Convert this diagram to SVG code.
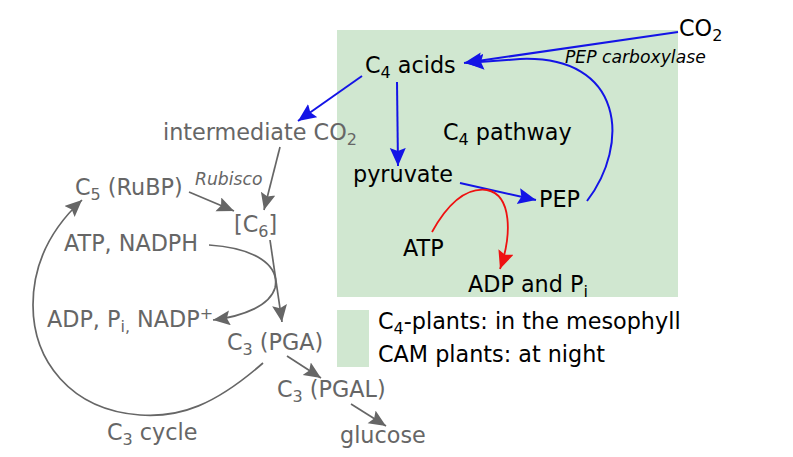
<svg xmlns="http://www.w3.org/2000/svg" width="793" height="457" viewBox="0 0 793 457">
<style>
text{font-family:"DejaVu Sans",Verdana,sans-serif;font-size:22.3px}
.k{fill:#000}
.g{fill:#666}
.it{font-style:italic;font-size:17.2px}
.s{font-size:16px}
.b{fill:none;stroke:#1414e6;stroke-width:2}
.r{fill:none;stroke:#ee1111;stroke-width:1.8}
.gr{fill:none;stroke:#666;stroke-width:1.7}
</style>
<defs>
<marker id="ab" markerUnits="userSpaceOnUse" markerWidth="22" markerHeight="18" refX="18" refY="8" orient="auto"><path d="M0,0 L18,8 L0,16 L3,8 z" fill="#1414e6"/></marker>
<marker id="ar" markerUnits="userSpaceOnUse" markerWidth="22" markerHeight="18" refX="18" refY="8" orient="auto"><path d="M0,0 L18,8 L0,16 L3,8 z" fill="#ee1111"/></marker>
<marker id="ag" markerUnits="userSpaceOnUse" markerWidth="22" markerHeight="18" refX="17" refY="7.5" orient="auto"><path d="M0,0 L17,7.5 L0,15 L3,7.5 z" fill="#666"/></marker>
</defs>
<g id="background">
<rect x="337" y="30" width="341" height="267" fill="#d0e7d0"/>
<rect x="337" y="310" width="32" height="57" fill="#d0e7d0"/>
</g>
<g id="connectors">
<path class="b" d="M678,32 L464,63" marker-end="url(#ab)"/>
<path class="b" d="M587,201 C630,145 625,55 520,59 L466,63" marker-end="url(#ab)"/>
<path class="b" d="M362,76 L298,121" marker-end="url(#ab)"/>
<path class="b" d="M397,82 L398,166" marker-end="url(#ab)"/>
<path class="b" d="M460,183 L536,200" marker-end="url(#ab)"/>
<path class="r" d="M432,232 C452,196 472,188 487,190 C512,195 512,235 500,269" marker-end="url(#ar)"/>
<path class="gr" d="M280,147 L264,210" marker-end="url(#ag)"/>
<path class="gr" d="M189,192 L234,211" marker-end="url(#ag)"/>
<path class="gr" d="M270,240 L282,322" marker-end="url(#ag)"/>
<path class="gr" d="M209,245 C255,248 280,265 275,288 C270,305 245,316 213,320" marker-end="url(#ag)"/>
<path class="gr" d="M263,363 C215,405 180,418 140,415 C70,410 33,360 33,305 C33,260 55,225 82,200" marker-end="url(#ag)"/>
<path class="gr" d="M287,356 L321,378" marker-end="url(#ag)"/>
<path class="gr" d="M351,404 L386,426" marker-end="url(#ag)"/>
</g>
<g id="n-co2"><text class="k" x="679" y="36">CO<tspan class="s" dy="5">2</tspan></text></g>
<g id="n-pepc"><text class="k it" x="565" y="63">PEP carboxylase</text></g>
<g id="n-c4acids"><text class="k" x="365" y="73">C<tspan class="s" dy="5">4</tspan><tspan dy="-5"> acids</tspan></text></g>
<g id="n-c4path"><text class="k" x="443" y="140">C<tspan class="s" dy="5">4</tspan><tspan dy="-5"> pathway</tspan></text></g>
<g id="n-pyruvate"><text class="k" x="353" y="182">pyruvate</text></g>
<g id="n-pep"><text class="k" x="539" y="207">PEP</text></g>
<g id="n-atp"><text class="k" x="403" y="256">ATP</text></g>
<g id="n-adp"><text class="k" x="468" y="292">ADP and P<tspan class="s" dy="5">i</tspan></text></g>
<g id="legend">
<text class="k" x="378" y="329">C<tspan class="s" dy="5">4</tspan><tspan dy="-5">-plants: in the mesophyll</tspan></text>
<text class="k" x="378" y="362">CAM plants: at night</text>
</g>
<g id="n-intco2"><text class="g" x="163" y="140">intermediate CO<tspan class="s" dy="5">2</tspan></text></g>
<g id="n-rubisco"><text class="g it" x="195" y="185">Rubisco</text></g>
<g id="n-c5"><text class="g" x="75" y="195">C<tspan class="s" dy="5">5</tspan><tspan dy="-5"> (RuBP)</tspan></text></g>
<g id="n-c6"><text class="g" x="234" y="232">[C<tspan class="s" dy="5">6</tspan><tspan dy="-5">]</tspan></text></g>
<g id="n-atpnadph"><text class="g" x="64" y="251">ATP, NADPH</text></g>
<g id="n-adpnadp"><text class="g" x="47" y="327">ADP, P<tspan class="s" dy="5">i,</tspan><tspan dy="-5"> NADP</tspan><tspan class="s" dy="-8">+</tspan></text></g>
<g id="n-pga"><text class="g" x="227" y="350">C<tspan class="s" dy="5">3</tspan><tspan dy="-5"> (PGA)</tspan></text></g>
<g id="n-pgal"><text class="g" x="277" y="397">C<tspan class="s" dy="5">3</tspan><tspan dy="-5"> (PGAL)</tspan></text></g>
<g id="n-c3cycle"><text class="g" x="107" y="440">C<tspan class="s" dy="5">3</tspan><tspan dy="-5"> cycle</tspan></text></g>
<g id="n-glucose"><text class="g" x="340" y="443">glucose</text></g>
</svg>
